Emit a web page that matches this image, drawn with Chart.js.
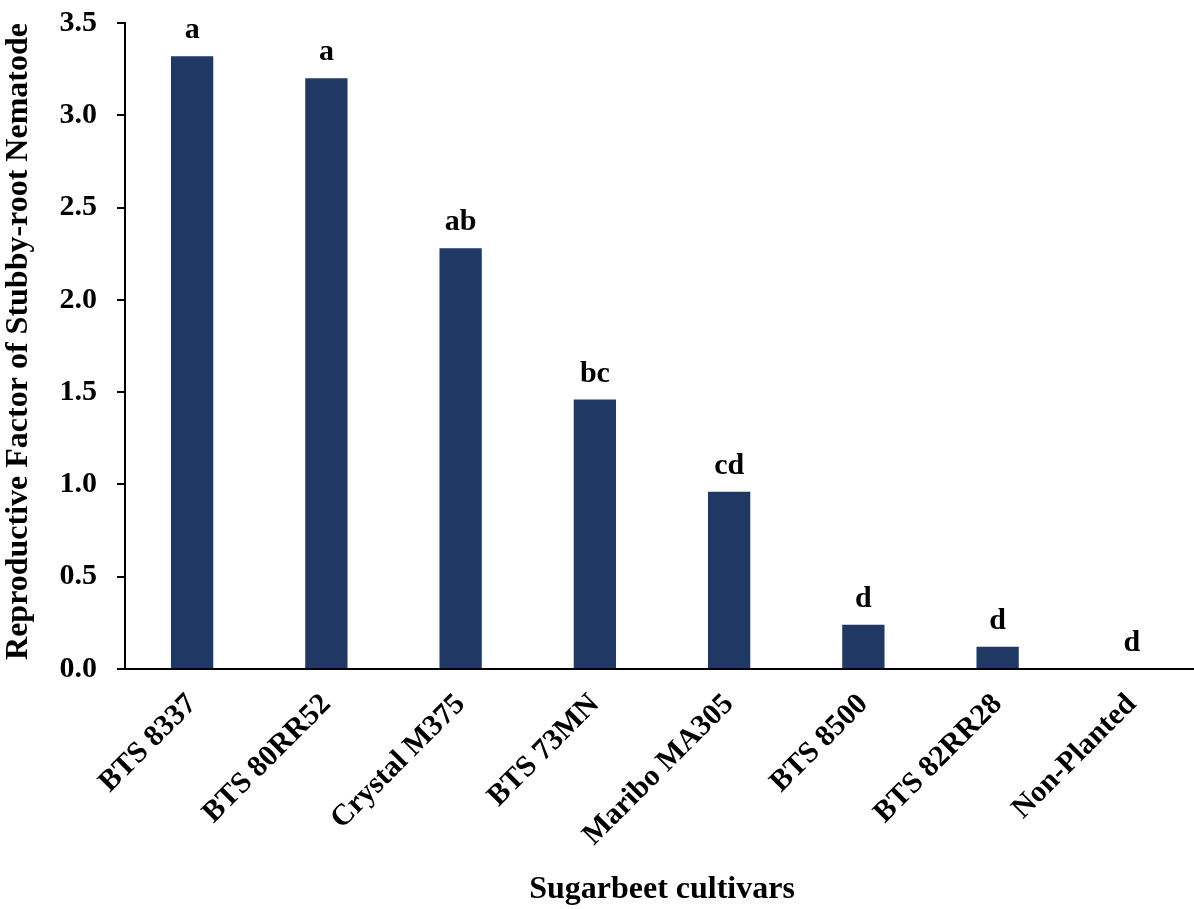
<!DOCTYPE html>
<html>
<head>
<meta charset="utf-8">
<script src="https://cdn.jsdelivr.net/npm/chart.js@4"></script>
<style>
  html, body { margin: 0; padding: 0; background: #fff; overflow: hidden; }
  #wrap { width: 1199px; height: 909px; overflow: hidden; }
  #myChart { margin-top: -15px; display: block; }
</style>
</head>
<body>
<div id="wrap"><canvas id="myChart" width="1199" height="924"></canvas></div>
<script>
const cultivars = ['BTS 8337', 'BTS 80RR52', 'Crystal M375', 'BTS 73MN', 'Maribo MA305', 'BTS 8500', 'BTS 82RR28', 'Non-Planted'];
const rfValues = [3.32, 3.20, 2.28, 1.46, 0.96, 0.24, 0.12, 0.0];
const groupLetters = ['a', 'a', 'ab', 'bc', 'cd', 'd', 'd', 'd'];

const serif = '"Liberation Serif", "Times New Roman", serif';

// letters over bars
const letterPlugin = {
  id: 'letters',
  afterDatasetsDraw(chart) {
    const ctx = chart.ctx;
    const meta = chart.getDatasetMeta(0);
    ctx.save();
    ctx.font = 'bold 30px ' + serif;
    ctx.fillStyle = '#000';
    ctx.textAlign = 'center';
    ctx.textBaseline = 'alphabetic';
    meta.data.forEach((bar, i) => {
      ctx.fillText(groupLetters[i], bar.x, bar.y - 18);
    });
    ctx.restore();
  }
};

const canvas = document.getElementById('myChart');
const ctx = canvas.getContext('2d');
new Chart(ctx, {
  type: 'bar',
  data: {
    labels: cultivars,
    datasets: [{
      data: rfValues,
      backgroundColor: '#203864',
      borderWidth: 0,
      barPercentage: 0.63,
      categoryPercentage: 0.5
    }]
  },
  options: {
    responsive: false,
    animation: false,
    layout: { padding: { top: 8, left: 0, right: 0, bottom: 0 } },
    plugins: { legend: { display: false }, tooltip: { enabled: false } },
    scales: {
      x: {
        grid: { display: false },
        border: { display: true, color: '#000', width: 2 },
        ticks: {
          color: '#000',
          font: { family: serif, size: 30, weight: 'bold' },
          minRotation: 45,
          maxRotation: 45,
          padding: 10
        },
        title: {
          display: true,
          text: 'Sugarbeet cultivars',
          color: '#000',
          font: { family: serif, size: 32, weight: 'bold' },
          padding: { top: 0, bottom: 0 }
        },
        afterFit(scale) { scale.height = 240; }
      },
      y: {
        min: 0,
        max: 3.5,
        grid: { display: true, drawOnChartArea: false, drawTicks: true, tickLength: 8, color: '#000', lineWidth: 2 },
        border: { display: true, color: '#000', width: 2 },
        ticks: {
          stepSize: 0.5,
          color: '#000',
          font: { family: serif, size: 30, weight: 'bold' },
          padding: 20,
          callback: v => Number(v).toFixed(1)
        },
        title: {
          display: true,
          align: 'end',
          text: 'Reproductive Factor of Stubby-root Nematode',
          color: '#000',
          font: { family: serif, size: 32, weight: 'bold' },
          padding: { top: 0, bottom: 0 }
        },
        afterFit(scale) { scale.width = 125; }
      }
    }
  },
  plugins: [letterPlugin]
});
</script>
</body>
</html>
